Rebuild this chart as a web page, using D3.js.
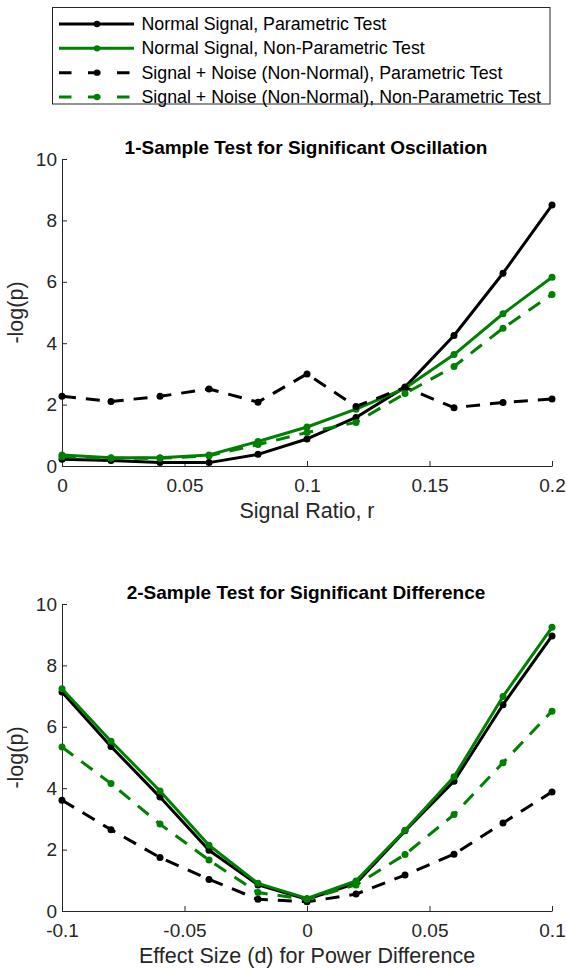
<!DOCTYPE html>
<html>
<head>
<meta charset="utf-8">
<script src="https://cdn.jsdelivr.net/npm/d3@7"></script>
<style>
  html, body { margin: 0; padding: 0; background: #fff; }
  svg { display: block; font-family: "Liberation Sans", Arial, sans-serif; }
</style>
</head>
<body>
<svg id="fig" width="567" height="969"></svg>
<script>
// Signal ratio sweep (1-sample test)
const ratioX = [0, 0.02, 0.04, 0.06, 0.08, 0.1, 0.12, 0.14, 0.16, 0.18, 0.2];
const osc_normalParam    = [0.22, 0.18, 0.11, 0.11, 0.38, 0.88, 1.58, 2.57, 4.25, 6.28, 8.5];
const osc_normalNonParam = [0.36, 0.27, 0.27, 0.36, 0.8, 1.27, 1.85, 2.53, 3.63, 4.96, 6.15];
const osc_noiseParam     = [2.27, 2.1, 2.27, 2.51, 2.08, 3.0, 1.94, 2.56, 1.9, 2.07, 2.18];
const osc_noiseNonParam  = [0.3, 0.25, 0.25, 0.33, 0.7, 1.09, 1.42, 2.36, 3.24, 4.49, 5.59];

// Effect size sweep (2-sample test)
const effectX = [-0.1, -0.08, -0.06, -0.04, -0.02, 0, 0.02, 0.04, 0.06, 0.08, 0.1];
const diff_normalParam    = [7.13, 5.36, 3.71, 1.98, 0.85, 0.38, 0.9, 2.61, 4.23, 6.72, 8.96];
const diff_normalNonParam = [7.24, 5.53, 3.91, 2.14, 0.9, 0.41, 0.98, 2.63, 4.37, 6.99, 9.24];
const diff_noiseParam     = [3.61, 2.65, 1.74, 1.03, 0.38, 0.3, 0.55, 1.17, 1.85, 2.87, 3.88];
const diff_noiseNonParam  = [5.34, 4.15, 2.83, 1.66, 0.6, 0.38, 0.85, 1.84, 3.14, 4.83, 6.51];

const seriesNames = [
  "Normal Signal, Parametric Test",
  "Normal Signal, Non-Parametric Test",
  "Signal +  Noise (Non-Normal), Parametric Test",
  "Signal + Noise (Non-Normal), Non-Parametric Test"
];
const seriesColors = ["#000000", "#008000", "#000000", "#008000"];
const seriesDashed = [false, false, true, true];

const yTicks = [0, 2, 4, 6, 8, 10];
const ratioTicks = [0, 0.05, 0.1, 0.15, 0.2];
const ratioTickLabels = ["0", "0.05", "0.1", "0.15", "0.2"];
const effectTicks = [-0.1, -0.05, 0, 0.05, 0.1];
const effectTickLabels = ["-0.1", "-0.05", "0", "0.05", "0.1"];

const svg = d3.select("#fig");
const axisColor = "#262626";
const dashPattern = "14,10";

// Legend
const legend = svg.append("g");
legend.append("rect")
  .attr("x", 52.5).attr("y", 7.5).attr("width", 497.5).attr("height", 96.5)
  .attr("fill", "#fff").attr("stroke", axisColor).attr("stroke-width", 1);
const legendRow = d3.scaleLinear().domain([0, 3]).range([24, 97]);
seriesNames.forEach((name, i) => {
  const y = legendRow(i);
  legend.append("line")
    .attr("x1", 59).attr("x2", 134).attr("y1", y).attr("y2", y)
    .attr("stroke", seriesColors[i]).attr("stroke-width", 3)
    .attr("stroke-dasharray", seriesDashed[i] ? "12.5,16.5" : null);
  legend.append("circle")
    .attr("cx", 97).attr("cy", y).attr("r", 3.2)
    .attr("fill", seriesColors[i]);
  legend.append("text")
    .attr("x", 141.5).attr("y", y + 6)
    .attr("font-size", 17.8).attr("fill", "#000")
    .text(name);
});

function drawPanel(top, xValues, seriesList, xDomain, xTicks, xTickLabels, title, xLabel) {
  const left = 62, right = 552, plotH = 307;
  const x = d3.scaleLinear().domain(xDomain).range([left, right]);
  const y = d3.scaleLinear().domain([0, 10]).range([top + plotH, top]);
  const g = svg.append("g");

  // axes: ticks pointing inward, no box
  const xAxis = d3.axisBottom(x).tickValues(xTicks)
    .tickFormat((d, i) => xTickLabels[i]).tickSizeInner(-5).tickSizeOuter(0).tickPadding(13);
  const yAxis = d3.axisLeft(y).tickValues(yTicks)
    .tickFormat(d3.format("d")).tickSizeInner(-5).tickSizeOuter(0).tickPadding(5);

  const gx = g.append("g").attr("transform", `translate(0,${top + plotH})`).call(xAxis);
  const gy = g.append("g").attr("transform", `translate(${left},0)`).call(yAxis);
  [gx, gy].forEach(a => {
    a.select(".domain").attr("stroke", axisColor).attr("stroke-width", 1);
    a.selectAll(".tick line").attr("stroke", axisColor);
    a.selectAll(".tick text").attr("fill", axisColor)
      .attr("font-size", 19).attr("font-family", "Liberation Sans, Arial, sans-serif");
  });

  const line = d3.line().x((d, i) => x(xValues[i])).y(d => y(d));
  seriesList.forEach((vals, i) => {
    g.append("path")
      .attr("d", line(vals))
      .attr("fill", "none")
      .attr("stroke", seriesColors[i]).attr("stroke-width", 3)
      .attr("stroke-linejoin", "round")
      .attr("stroke-dasharray", seriesDashed[i] ? dashPattern : null);
    g.selectAll(null).data(vals).enter().append("circle")
      .attr("cx", (d, j) => x(xValues[j])).attr("cy", d => y(d))
      .attr("r", 3.5).attr("fill", seriesColors[i]);
  });

  g.append("text")
    .attr("x", (left + right) / 2 - 1).attr("y", top - 5)
    .attr("text-anchor", "middle").attr("font-weight", "bold")
    .attr("font-size", 19).attr("fill", "#000").text(title);

  g.append("text")
    .attr("x", (left + right) / 2).attr("y", top + plotH + 52)
    .attr("text-anchor", "middle").attr("font-size", 21.5).attr("fill", axisColor)
    .text(xLabel);

  g.append("text")
    .attr("transform", `translate(23,${top + plotH / 2}) rotate(-90)`)
    .attr("text-anchor", "middle").attr("font-size", 21.5).attr("fill", axisColor)
    .text("-log(p)");
}

drawPanel(159, ratioX,
  [osc_normalParam, osc_normalNonParam, osc_noiseParam, osc_noiseNonParam],
  [0, 0.2], ratioTicks, ratioTickLabels,
  "1-Sample Test for Significant Oscillation", "Signal Ratio, r");

drawPanel(604, effectX,
  [diff_normalParam, diff_normalNonParam, diff_noiseParam, diff_noiseNonParam],
  [-0.1, 0.1], effectTicks, effectTickLabels,
  "2-Sample Test for Significant Difference", "Effect Size (d) for Power Difference");
</script>
</body>
</html>
